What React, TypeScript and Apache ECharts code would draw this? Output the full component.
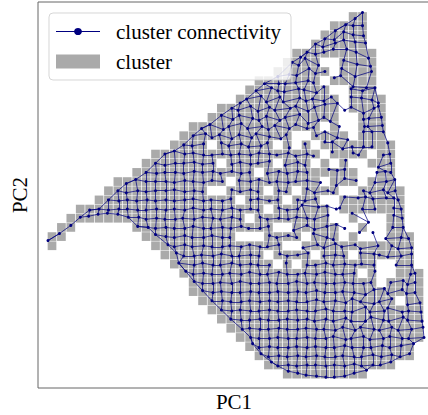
import React, { useEffect, useRef } from "react";
import * as echarts from "echarts";

// Occupied map cells per row (top to bottom): [first column, last column] spans.
const cellSpans: number[][][] = [
  [[32,33]],[[30,33]],[[29,33]],[[28,33]],[[26,34]],
  [[25,28],[31,34]],[[24,29],[31,34]],[[22,28],[30,34]],[[21,29],[32,34]],[[20,30],[32,35]],
  [[18,30],[32,35]],[[17,30],[33,35]],[[15,28],[30,30],[33,35]],[[14,25],[28,31],[33,35]],
  [[13,16],[18,23],[25,25],[27,27],[29,36]],[[11,28],[30,33],[35,36]],
  [[10,17],[19,23],[25,27],[29,29],[31,31],[34,36]],[[9,21],[23,32],[35,36]],
  [[7,18],[20,28],[30,32],[34,36]],[[6,16],[19,22],[24,25],[27,30],[33,37]],
  [[5,19],[21,24],[26,28],[31,37]],[[3,22],[24,29],[31,37]],[[2,20],[22,29],[32,32],[36,37]],
  [[1,2],[9,23],[26,30],[33,33],[36,37]],[[0,1],[10,19],[23,26],[28,30],[32,32],[36,38]],
  [[0,0],[11,24],[27,38]],[[12,22],[24,27],[29,31],[33,38]],[[13,23],[25,25],[27,34],[37,38]],
  [[14,32],[34,34],[37,39]],[[15,34],[36,39]],[[15,39]],[[16,36],[38,39]],[[17,39]],[[18,39]],
  [[19,39]],[[20,39]],[[21,38]],[[22,38]],[[23,36]],[[25,33]],
];

// Cluster centres per row: runs of [first column, dx, dy, dx, dy, ...], the offsets read from the cell's centre.
const nodeRuns: number[][][] = [
  [[32,2,2,0,-4]],
  [[30,1,5,2,-1,0,0,0,0]],
  [[29,0,4,0,5,0,-3,0,0,1,1]],
  [[28,0,0,-2,3,1,-1,0,-4,2,-2,3,-1]],
  [[26,4,4,1,-1,0,1,-1,-1,-1,-4,3,-4,3,-1,6,5]],
  [[25,5,0,2,3,-1,-4,3,3],[31,0,-2,4,2,8,4]],
  [[24,0,5,2,3,0,4,3,-3,0,2,0,0],[31,-2,-3,2,5,9,0]],
  [[23,-4,3,1,3,-2,3,-1,2,2,0,-2,2],[30,0,-3,-3,-5,0,6,4,7]],
  [[22,-3,1,3,-2,0,1,-3,2,2,-1,-2,0,1,3,-1,-3],[32,-2,-1,0,1,3,-2]],
  [[20,0,4,-3,0,2,-3,-2,3,2,-2,-4,3,3,-1,0,2,-3,0,-1,2,-3,-2],[32,-2,-2,-1,-1,0,1,-3,4]],
  [[19,1,0,-2,2,1,-2,-1,3,1,-1,-3,2,3,0,-1,-2,2,3,-1,-1,0,-4,3,-5,1,2,-2,-1,1,5,2,0,-3,-2]],
  [[18,0,-2,2,2,-1,-2,3,1,0,3,-2,-1,2,3,-2,0,3,-3,2,6,3,3,-1,0,-4,4],[33,1,2,-3,1,0,0]],
  [[16,-1,2,-2,-2,2,3,-2,0,1,-3,-2,2,3,0,0,3,-3,-1,2,2,-1,-2,1,2,-2,1],[30,5,0],[33,2,0,-4,0,1,-1]],
  [[15,0,0,3,-2,0,2,-2,-1,1,3,-1,-1,2,2,-3,-2,1,1,3,3,-1,-1],[28,1,0,0,-4,3,2,4,4],[33,1,-4,0,-4,2,-4]],
  [[14,0,0,-1,1,1,-1],[18,0,-2,-2,1,1,-1,-1,2,2,1,-1,-2],[25,2,3],[27,-1,-1],[29,0,-3,-2,-3,-1,4,-1,2,1,2,0,2],[36,-3,-2]],
  [[12,0,0,0,-3,1,0,0,-1,1,1,0,1,1,0,0,1,-1,0,1,1,0,-1,1,0,-1,1,1,-1,-1,2,1,0,-2,2],[30,-2,-2],[32,0,-1,-4,1],[35,2,1,-1,0]],
  [[11,0,0,0,2,1,0,0,0,1,-1,0,1,1,0],[19,1,1,0,-1,1,1,-1,0,1,-2],[25,-2,2,1,-1,-1,2],[31,2,-3],[35,-3,4,0,0]],
  [[10,0,0,1,1,0,0,1,0,0,1,1,-1,0,0,1,-1,-1,1,1,-1,1,1,0,0],[23,-1,1,1,-1,0,1,1,-1,1,0],[29,4,-3,3,-2,1,-3],[34,5,0,4,-1,0,0]],
  [[8,-1,2,-1,-2,0,0,0,0,1,0,0,1,1,-1,0,0,1,1,0,-1,1,0],[20,-1,-1,1,0,0,-2,1,1,-1,0,1,1,-1,0,1,-1,5,1],[30,2,4,1,-3,3,-1],[34,3,1,5,0,4,-2]],
  [[7,0,0,-1,2,1,0,0,1,0,0,1,0,0,-1,1,1,1,0,0,1],[19,1,-1,0,1,1,-1,-1,1],[24,1,0,-1,1],[27,1,-2,-1,2,3,0,-1,2],[33,1,0,-2,2,2,-1,-3,2,-5,0]],
  [[6,0,0,1,1,0,0,0,1,1,0,0,1,1,0,0,1,1,0,0,-1,1,1,-1,0,1,1,0,-1],[21,1,0,-1,-1,1,1,0,0],[26,1,0,-1,1,0,-1],[31,1,-3,5,-2,3,-3,1,-1,5,-2,3,-2,-2,0]],
  [[4,0,1,0,0,0,1,1,0,0,0,1,1,0,1,1,0,1,1,0,0,1,1,0,-1,1,1,-1,0,1,1,1,-1,0,1,1,0,-1,1],[24,1,-1,0,1,1,0,-4,-4,3,-2,2,-3,2,0,-4,-1],[33,0,0,3,0],[36,3,-1,1,0]],
  [[3,0,-1,-1,-2,-1,-4,-1,-5,0,-4,1,-1,2,-1,0,1,1,0,0,1,1,1,-1,0,1,1,0,-1,1,0,-1,1,1,-1,0,1],[22,1,-1,-1,1,1,0,1,1,0,-1,1,0,-1,1,3,-3],[32,-1,-5,6,4],[36,3,-3,2,0]],
  [[2,0,-2],[9,1,-1,2,0,0,1,1,0,0,1,1,1,0,-1,1,1,-1,1,1,0,0,1,1,-1,-1,1,1,1,0,-1],[26,-3,3,1,-2,-1,2,2,-1,2,-3,1,1],[33,-3,5],[36,2,0,3,0]],
  [[0,-4,4,-2,-3],[11,0,-2,1,0,0,1,1,-1,-1,1,1,1,0,-1,1,1,-1,1],[23,1,-1,-1,1,1,-1,0,1],[28,-2,-3,2,1,-1,3],[34,1,-4],[36,-5,2,1,1,-1,2]],
  [[12,3,-1,0,1,1,-1,-1,1,1,0,0,1,1,1,-1,0,1,1,0,-1,1,1,-1,1,1,-1],[27,-3,2,2,-1,-1,2,1,-2,-2,1,2,-1,-2,3,6,0],[36,1,0,-2,3,2,2]],
  [[13,2,-2,0,1,1,1,-1,0,1,1,0,-1,1,1,-1,1,1,0,0,1],[24,2,-1,0,1,1,0,2,-2],[29,-1,1,1,0,0,1],[33,-2,-2,2,-1,-2,0,-3,2,1,1,2,-1]],
  [[14,-5,-1,1,1,0,-1,1,1,-1,1,1,-1,0,1,1,0,-1,1,1,1],[25,-1,-1],[27,1,1,0,1,1,-1,-1,1,1,0,2,1,-1,0,2,1],[37,-4,1,2,1]],
  [[14,2,-2,0,1,1,0,0,1,1,1,-1,0,1,1,0,-1,1,1,-1,1,1,-1,0,1,1,1,-1,0,1,1,0,-1,1,1,-1,1,1,0],[34,3,-2],[38,1,1,-4,0]],
  [[15,1,-1,0,1,1,1,-1,0,1,1,0,-1,1,1,0,1,1,0,-1,1,1,1,0,-1,1,1,-1,0,1,1,0,1,1,0,0,1,1,1,-1,0],[36,0,0,3,-2,-2,2,-4,0]],
  [[16,0,-1,1,1,0,0,1,1,0,1,1,0,0,1,1,1,0,0,1,1,1,0,0,1,1,-1,0,1,1,1,-1,0,1,1,3,3,2,-2,3,-3,-3,2,2,-2,-3,2,-4,1]],
  [[17,0,0,1,0,0,1,1,1,0,0,1,1,1,0,0,1,1,0,0,1,1,1,1,-1,-1,1,1,0,2,2,-1,-2,-2,1,2,3,-2,1,1,-2],[38,-2,4,1,2]],
  [[18,0,0,1,1,0,0,1,1,0,1,1,0,0,1,1,1,0,0,1,1,0,1,1,-1,-1,1,1,1,-1,2,3,-3,-2,2,3,1,-3,-2,2,2,-1,1,2,2]],
  [[19,0,0,1,1,0,1,1,0,0,1,1,1,0,0,1,1,1,0,-1,2,1,0,-1,2,2,-1,-2,2,3,2,-1,-2,2,1,-2,2,3,-2,-2,1,3,2]],
  [[20,2,1,0,0,1,1,0,1,1,0,0,1,1,1,0,0,1,1,-1,1,1,2,-1,-1,2,2,-2,-1,2,1,-2,2,1,-1,-2,2,2,1,4,-1]],
  [[21,1,0,0,1,1,1,0,0,1,1,0,1,1,0,0,1,1,1,-1,-1,2,2,-2,1,1,-1,-2,2,2,1,-1,-1,2,1,-1,1,5,0]],
  [[21,3,-3,0,1,1,0,0,1,1,1,0,0,1,1,0,0,1,1,0,1,1,-1,-1,1,1,1,-1,1,1,-1,-1,1,1,-1,4,-3]],
  [[22,2,-2,0,1,1,0,0,1,1,0,0,1,1,0,0,1,1,1,-1,0,1,1,-1,1,1,-1,0,1,1,-1,0,1,0,-2]],
  [[23,3,-3,0,1,1,0,0,1,1,0,0,0,1,1,0,0,1,1,1,-1,-1,1,1,0,-1,0,0,-3]],
  [[25,1,-3,1,-1,0,1,1,2,1,3,0,3,1,2,1,-1,4,-4]],
];

// Diagonal links along the map's outer rim, as column, row, column, row, ...
const rimChains: number[][] = [
  [0,24,1,24,2,23,3,22,4,21,5,21,6,20,7,19,8,18,9,18,10,17,11,16,12,15,13,15,14,14,15,13,16,12,17,12,18,11,19,10,20,9,21,9,22,8,23,7,24,6,25,5,26,4,27,4,28,3,29,2,30,1,31,1,32,0,33,0],
  [8,22,9,23,10,23,11,24,12,25,13,26,14,27,14,28,15,29,16,30,17,31,18,32,19,33,20,34,21,35,21,36,22,37,23,38,24,38,25,39],
  [33,7,34,8,35,9],[35,13,36,14],[36,18,37,19],[37,23,38,24],[38,27,39,28],[39,35,38,36],[37,37,36,38],[34,38,33,39],
];

const seriesNames = ["cluster connectivity", "cluster"];
const axisNames = ["PC1", "PC2"];
const CELL_X = 9.41; // pixels per map column, used only to turn offsets read in pixels into map units
const CELL_Y = 9.17;

const FONT = "'Liberation Serif', 'Times New Roman', serif";
const NAVY = "#000080";
const GREY = "#aaaaaa";

const cells: number[][] = [];
cellSpans.forEach((row, j) =>
  row.forEach(([a, b]) => {
    for (let c = a; c <= b; c++) cells.push([c, -j]);
  })
);

const nodes = new Map<string, number[]>();
nodeRuns.forEach((row, j) =>
  row.forEach((run) => {
    for (let i = 1; i < run.length; i += 2) {
      const c = run[0] + (i - 1) / 2;
      nodes.set(`${c},${j}`, [c + run[i] / CELL_X, -(j + run[i + 1] / CELL_Y)]);
    }
  })
);

const links: { coords: number[][] }[] = [];
nodes.forEach((p, key) => {
  const [c, j] = key.split(",").map(Number);
  const right = nodes.get(`${c + 1},${j}`);
  const down = nodes.get(`${c},${j + 1}`);
  if (right) links.push({ coords: [p, right] });
  if (down) links.push({ coords: [p, down] });
});
rimChains.forEach((chain) => {
  for (let i = 0; i + 3 < chain.length; i += 2) {
    const a = nodes.get(`${chain[i]},${chain[i + 1]}`);
    const b = nodes.get(`${chain[i + 2]},${chain[i + 3]}`);
    if (a && b) links.push({ coords: [a, b] });
  }
});

export default function App() {
  const ref = useRef<HTMLDivElement>(null);
  useEffect(() => {
    const chart = echarts.init(ref.current!, undefined, { renderer: "svg" });
    chart.setOption({
      animation: false,
      backgroundColor: "#fff",
      grid: { left: 38, top: 2, width: 392, height: 386, outerBoundsMode: "none", containLabel: false, show: true, borderColor: "#666", borderWidth: 1, backgroundColor: "transparent" },
      xAxis: {
        type: "value", min: -1.488, max: 40.17, name: axisNames[0], nameLocation: "middle", nameGap: 3,
        nameTextStyle: { fontFamily: FONT, fontSize: 21, color: "#000" },
        axisLine: { show: false }, axisTick: { show: false }, axisLabel: { show: false }, splitLine: { show: false },
      },
      yAxis: {
        type: "value", min: -40.51, max: 1.58, name: axisNames[1], nameLocation: "middle", nameGap: 8,
        nameTextStyle: { fontFamily: FONT, fontSize: 21, color: "#000" },
        axisLine: { show: false }, axisTick: { show: false }, axisLabel: { show: false }, splitLine: { show: false },
      },
      legend: {
        left: 49, top: 13, orient: "vertical", align: "left",
        backgroundColor: "rgba(255,255,255,0.8)", borderColor: "rgba(204,204,204,0.8)", borderWidth: 1, borderRadius: 4,
        padding: [8, 10, 8, 7], itemGap: 9, itemWidth: 44, itemHeight: 14,
        textStyle: { fontFamily: FONT, fontSize: 21, color: "#000", padding: [0, 0, 0, 11] },
        selectedMode: false,
        data: [
          { name: seriesNames[0], icon: "path://M0 0L.01 0ZM0 14L.01 14ZM0 6.6H18.1A4 4 0 0 1 25.9 6.6H44V7.4H25.9A4 4 0 0 1 18.1 7.4H0Z", itemStyle: { color: NAVY, borderWidth: 0 } },
          { name: seriesNames[1], icon: "rect", itemStyle: { color: GREY, borderWidth: 0 } },
        ],
      },
      series: [
        {
          name: seriesNames[1], type: "scatter", symbol: "rect", symbolSize: 8.7, silent: true, z: 1,
          itemStyle: { color: GREY, opacity: 1 }, data: cells,
        },
        {
          name: seriesNames[0], type: "lines", coordinateSystem: "cartesian2d", silent: true, z: 2, polyline: false,
          lineStyle: { color: NAVY, width: 0.8, opacity: 0.9, curveness: 0 }, data: links,
        },
        {
          name: seriesNames[0], type: "scatter", symbol: "circle", symbolSize: 3, silent: true, z: 3,
          itemStyle: { color: NAVY, opacity: 1 }, data: Array.from(nodes.values()),
        },
      ],
    });
    return () => chart.dispose();
  }, []);
  return <div ref={ref} style={{ position: "absolute", left: 0, top: 0, width: 428, height: 415 }} />;
}
